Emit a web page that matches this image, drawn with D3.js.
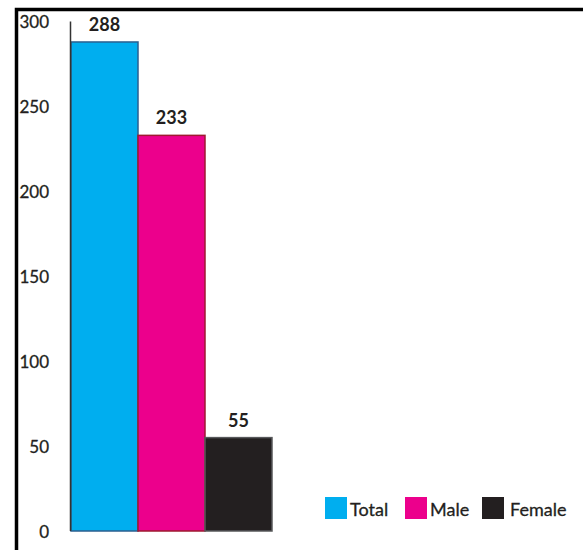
<!DOCTYPE html>
<html>
<head>
<meta charset="utf-8">
<style>
body { margin: 0; background: #fff; }
svg text { font-family: Lato, sans-serif; fill: #231f20; }
.y_axis path, .y_axis line { display: none; }
.y_axis text { font-size: 17px; }
</style>
<script src="https://d3js.org/d3.v7.min.js"></script>
</head>
<body>
<div id="chart"></div>
<script>
var categories = ["Total", "Male", "Female"];
var values = [288, 233, 55];
var fills = ["#00aeef", "#ec008c", "#231f20"];
var strokes = ["#2b5f8f", "#9e1a30", "#58595b"];
var y_ticks = [0, 50, 100, 150, 200, 250, 300];

var svg = d3.select("#chart").append("svg")
            .attr("width", 583)
            .attr("height", 550);

// outer frame (top and left edges only visible)
svg.append("path")
   .attr("d", "M16.5,550 V9.5 H583")
   .attr("fill", "none")
   .attr("stroke", "#000")
   .attr("stroke-width", 3.5);

var scale_x = d3.scaleBand().domain(categories).range([71, 272]).padding(0);
var scale_y = d3.scaleLinear().domain([0, 300]).range([531, 21.6]);

var y_axis = d3.axisLeft(scale_y).tickValues(y_ticks).tickSize(0).tickPadding(0);
svg.append("g")
   .attr("class", "y_axis")
   .attr("transform", "translate(49,0)")
   .call(y_axis)
   .selectAll("text")
   .attr("dy", "0.36em")
   .style("stroke", "#231f20")
   .style("stroke-width", 0.3);

svg.selectAll(".bar")
   .data(values)
   .enter()
   .append("rect")
   .attr("class", "bar")
   .attr("x", function(d, i) { return scale_x(categories[i]); })
   .attr("width", scale_x.bandwidth())
   .attr("y", function(d) { return scale_y(d); })
   .attr("height", function(d) { return scale_y(0) - scale_y(d); })
   .attr("fill", function(d, i) { return fills[i]; })
   .attr("stroke", function(d, i) { return strokes[i]; })
   .attr("stroke-width", 1.5);

svg.selectAll(".val")
   .data(values)
   .enter()
   .append("text")
   .attr("class", "val")
   .attr("x", function(d, i) { return scale_x(categories[i]) + scale_x.bandwidth() / 2; })
   .attr("y", function(d) { return scale_y(d) - 11; })
   .attr("text-anchor", "middle")
   .style("font-size", "18px")
   .style("font-weight", "700")
   .text(function(d) { return d; });

// y axis line
svg.append("line")
   .attr("x1", 70.5).attr("x2", 70.5)
   .attr("y1", scale_y(300)).attr("y2", scale_y(0))
   .attr("stroke", "#333")
   .attr("stroke-width", 1.5);

var legend_x = [325, 405, 482];
var legend = svg.selectAll(".legend")
   .data(categories)
   .enter()
   .append("g")
   .attr("class", "legend")
   .attr("transform", function(d, i) { return "translate(" + legend_x[i] + ",497)"; });

legend.append("rect")
      .attr("width", 22).attr("height", 22)
      .attr("fill", function(d, i) { return fills[i]; });

legend.append("text")
      .attr("x", function(d, i) { return i == 2 ? 28 : 25; })
      .attr("y", 19)
      .style("font-size", "18px")
      .style("stroke", "#231f20")
      .style("stroke-width", 0.3)
      .text(function(d) { return d; });
</script>
</body>
</html>
